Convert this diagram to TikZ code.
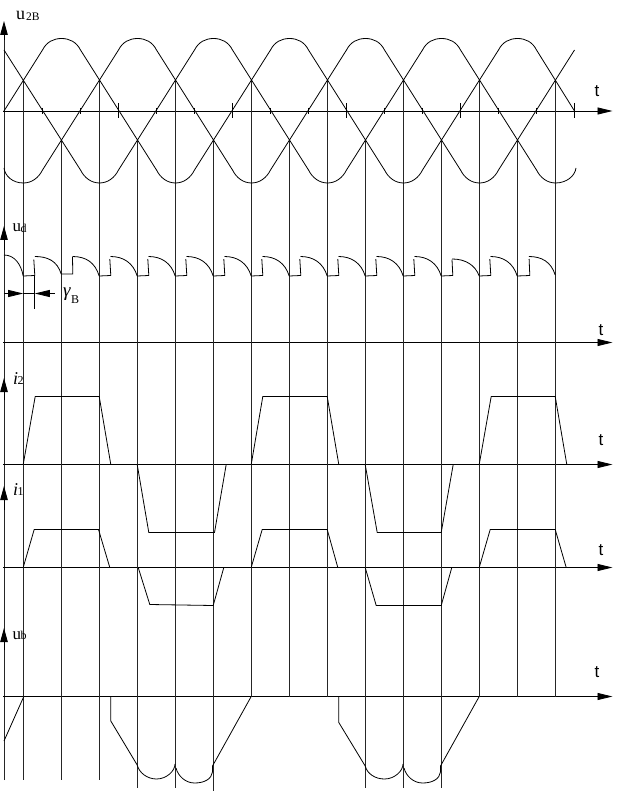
\documentclass[tikz,border=0pt]{standalone}
\usepackage{fontspec}
\setmainfont{Liberation Serif}
\newfontfamily\tfont{Liberation Sans}
\usetikzlibrary{arrows.meta}

\tikzset{
    curve/.style={line width=0.8pt},
    grid line/.style={line width=0.9pt, color=black!85},
    axis/.style={line width=0.9pt, -{Triangle[length=15pt,width=7pt]}},
    up tip/.style={line width=0.9pt, -{Triangle[length=14pt,width=7.5pt]}},
    dim tip/.style={line width=0.8pt, -{Triangle[length=15pt,width=7pt]}},
    big label/.style={anchor=base west, inner sep=0pt, font=\fontsize{17}{17}\selectfont},
    sub label/.style={anchor=base west, inner sep=0pt, font=\fontsize{12}{12}\selectfont},
    t label/.style={anchor=base west, inner sep=0pt, font=\tfont\fontsize{17}{17}\selectfont}
}

\begin{document}
\begin{tikzpicture}[x=1pt, y=-1pt]
\useasboundingbox (-0.5,0) rectangle (626.5,791);

% axes
\draw[grid line] (3.5, 780) -- (3.5, 30);
\draw[up tip] (3.5, 40) -- (3.5, 21);
\draw[up tip] (3.5, 250) -- (3.5, 226);
\draw[up tip] (3.5, 400) -- (3.5, 378);
\draw[up tip] (3.5, 510) -- (3.5, 486);
\draw[up tip] (3.5, 650) -- (3.5, 628);
\draw[axis] (3, 111) -- (612, 111);
\draw[axis] (3, 342.5) -- (612, 342.5);
\draw[axis] (3, 464.5) -- (612, 464.5);
\draw[axis] (3, 567.5) -- (612, 567.5);
\draw[axis] (3, 696.5) -- (612, 696.5);

% vertical lines
\draw[grid line] (22.7, 80) -- (22.7, 780);
\draw[grid line] (60.7, 141.5) -- (60.7, 780);
\draw[grid line] (98.7, 80) -- (98.7, 780);
\draw[grid line] (136.7, 141.5) -- (136.7, 787.5);
\draw[grid line] (174.7, 80) -- (174.7, 787.5);
\draw[grid line] (212.7, 141.5) -- (212.7, 790.5);
\draw[grid line] (250.7, 80) -- (250.7, 696.5);
\draw[grid line] (288.7, 141.5) -- (288.7, 696.5);
\draw[grid line] (326.7, 80) -- (326.7, 696.5);
\draw[grid line] (364.7, 141.5) -- (364.7, 787.5);
\draw[grid line] (402.7, 80) -- (402.7, 787.5);
\draw[grid line] (440.7, 141.5) -- (440.7, 787.5);
\draw[grid line] (478.7, 80) -- (478.7, 696.5);
\draw[grid line] (516.7, 141.5) -- (516.7, 696.5);
\draw[grid line] (554.7, 80) -- (554.7, 696.5);

% ticks on the first axis
\draw[curve] (42, 108) -- (42, 114);
\draw[curve] (80, 108) -- (80, 114);
\draw[curve] (118, 103) -- (118, 118);
\draw[curve] (156, 108) -- (156, 114);
\draw[curve] (194, 108) -- (194, 114);
\draw[curve] (232, 103) -- (232, 118);
\draw[curve] (270, 108) -- (270, 114);
\draw[curve] (308, 108) -- (308, 114);
\draw[curve] (346, 103) -- (346, 118);
\draw[curve] (384, 108) -- (384, 114);
\draw[curve] (422, 108) -- (422, 114);
\draw[curve] (460, 103) -- (460, 118);
\draw[curve] (498, 108) -- (498, 114);
\draw[curve] (536, 108) -- (536, 114);
\draw[curve] (574, 103) -- (574, 118);

% three phases of u2B
\draw[curve] (3.5, 111) -- (42, 50)
    .. controls +(4,-8) and +(-8,0) .. (61, 38.5) .. controls +(8,0) and +(-4,-8) .. (80, 50)
    -- (156, 170)
    .. controls +(4,8) and +(-8,0) .. (175, 183) .. controls +(8,0) and +(-4,8) .. (194, 170)
    -- (270, 50)
    .. controls +(4,-8) and +(-8,0) .. (289, 38.5) .. controls +(8,0) and +(-4,-8) .. (308, 50)
    -- (384, 170)
    .. controls +(4,8) and +(-8,0) .. (403, 183) .. controls +(8,0) and +(-4,8) .. (422, 170)
    -- (498, 50)
    .. controls +(4,-8) and +(-8,0) .. (517, 38.5) .. controls +(8,0) and +(-4,-8) .. (536, 50)
    -- (574, 111);
\draw[curve] (3.5, 50) -- (80, 170)
    .. controls +(4,8) and +(-8,0) .. (99, 183) .. controls +(8,0) and +(-4,8) .. (118, 170)
    -- (194, 50)
    .. controls +(4,-8) and +(-8,0) .. (213, 38.5) .. controls +(8,0) and +(-4,-8) .. (232, 50)
    -- (308, 170)
    .. controls +(4,8) and +(-8,0) .. (327, 183) .. controls +(8,0) and +(-4,8) .. (346, 170)
    -- (422, 50)
    .. controls +(4,-8) and +(-8,0) .. (441, 38.5) .. controls +(8,0) and +(-4,-8) .. (460, 50)
    -- (536, 170)
    .. controls +(4,8) and +(-8,0) .. (555, 183) .. controls +(11,0) and +(-1,8) .. (575.5, 168);
\draw[curve] (3.5, 168) .. controls +(1,8) and +(-11,0) .. (23, 183) .. controls +(8,0) and +(-4,8) .. (42, 170)
    -- (118, 50)
    .. controls +(4,-8) and +(-8,0) .. (137, 38.5) .. controls +(8,0) and +(-4,-8) .. (156, 50)
    -- (232, 170)
    .. controls +(4,8) and +(-8,0) .. (251, 183) .. controls +(8,0) and +(-4,8) .. (270, 170)
    -- (346, 50)
    .. controls +(4,-8) and +(-8,0) .. (365, 38.5) .. controls +(8,0) and +(-4,-8) .. (384, 50)
    -- (460, 170)
    .. controls +(4,8) and +(-8,0) .. (479, 183) .. controls +(8,0) and +(-4,8) .. (498, 170)
    -- (574, 50);

% pulses of ud
\draw[curve] (3.5, 255) .. controls +(11,0) and +(-2,-11) .. (22.7, 276) -- (34.3, 275.5) -- (33.3, 259.5);
\draw[curve] (34.3, 256.5) .. controls +(13,0) and +(-4,-13) .. (60.7, 274) -- (72.3, 274) -- (72, 257);
\draw[curve] (72, 256.5) .. controls +(14,0) and +(-4,-13) .. (98.7, 276) -- (110.3, 275.5) -- (109.3, 259);
\draw[curve] (110, 256.5) .. controls +(13,0) and +(-4,-13) .. (136.7, 276) -- (148.3, 275.5) -- (147.3, 259);
\draw[curve] (148, 256.5) .. controls +(13,0) and +(-4,-13) .. (174.7, 276) -- (186.3, 275.5) -- (185.3, 259);
\draw[curve] (186, 256.5) .. controls +(13,0) and +(-4,-13) .. (212.7, 276) -- (224.3, 275.5) -- (223.3, 259);
\draw[curve] (224, 256.5) .. controls +(13,0) and +(-4,-13) .. (250.7, 276) -- (262.3, 275.5) -- (261.3, 259);
\draw[curve] (262, 256.5) .. controls +(13,0) and +(-4,-13) .. (288.7, 276) -- (300.3, 275.5) -- (299.3, 259);
\draw[curve] (300, 256.5) .. controls +(13,0) and +(-4,-13) .. (326.7, 276) -- (338.3, 275.5) -- (337.3, 259);
\draw[curve] (338, 256.5) .. controls +(13,0) and +(-4,-13) .. (364.7, 276) -- (376.3, 275.5) -- (375.3, 259);
\draw[curve] (376, 256.5) .. controls +(13,0) and +(-4,-13) .. (402.7, 276) -- (414.3, 275.5) -- (413.3, 259);
\draw[curve] (414, 256.5) .. controls +(13,0) and +(-4,-13) .. (440.7, 276) -- (452.3, 275.5) -- (451.5, 259.5);
\draw[curve] (451.7, 259) .. controls +(13,0) and +(-4,-11) .. (478.7, 276) -- (490.3, 275.5) -- (489.3, 259);
\draw[curve] (490, 256.5) .. controls +(13,0) and +(-4,-13) .. (516.7, 276) -- (529.3, 275.5) -- (528.6, 259);
\draw[curve] (528.3, 256.5) .. controls +(13,0) and +(-4,-13) .. (554.7, 275);

% commutation angle
\coordinate (DimL) at (3.5, 293.5);
\coordinate (DimA) at (22.7, 293.5);
\coordinate (DimB) at (34.3, 293.5);
\coordinate (DimR) at (54, 293.5);
\draw[dim tip] (DimL) -- (DimA);
\draw[dim tip] (DimR) -- (DimB);
\draw[curve] (DimA) -- (DimB);
\draw[curve] (34.3, 276) -- (34.3, 308.5);

% i2
\draw[curve] (22.7, 464.5) -- (34.7, 396.5) -- (98.7, 396.5) -- (110.3, 464.5);
\draw[curve] (136.7, 464.5) -- (148.3, 532.5) -- (214, 532.5) -- (225.7, 464.5);
\draw[curve] (250.7, 464.5) -- (262.3, 396.5) -- (326.7, 396.5) -- (338.3, 464.5);
\draw[curve] (364.7, 464.5) -- (376.7, 532.5) -- (440.7, 532.5) -- (452.7, 464.5);
\draw[curve] (478.7, 464.5) -- (490.7, 396.5) -- (554.7, 396.5) -- (566.3, 464.5);

% i1
\draw[curve] (22.7, 567.5) -- (33.7, 529.5) -- (98, 529.5) -- (109.3, 567.5);
\draw[curve] (137.7, 567.5) -- (149.3, 604.5) -- (212.7, 605.5) -- (223.3, 567.5);
\draw[curve] (250.7, 567.5) -- (261.7, 529.5) -- (326.7, 529.5) -- (337.3, 567.5);
\draw[curve] (364.7, 567.5) -- (375.7, 605.5) -- (440.7, 605.5) -- (451.3, 567.5);
\draw[curve] (478.7, 567.5) -- (489.7, 529.5) -- (554.7, 529.5) -- (565.7, 567.5);

% ub
\draw[curve] (3.5, 741) -- (23.3, 696.5);
\draw[curve] (110.3, 696.5) -- (110.3, 721) -- (136.7, 765)
    .. controls +(2,8) and +(-9,0) .. (156, 779) .. controls +(10,0) and +(0,7) .. (174.5, 764);
\draw[curve] (175.5, 768) .. controls +(2,8) and +(-9,0) .. (194, 783) .. controls +(10,0) and +(-1,7) .. (212, 772)
    -- (212, 766) -- (250.7, 696.5);
\draw[curve] (338.3, 696.5) -- (338.3, 722.5) -- (364.7, 766)
    .. controls +(2,8) and +(-9,0) .. (384, 779) .. controls +(10,0) and +(0,7) .. (402.5, 764);
\draw[curve] (403.5, 768) .. controls +(2,8) and +(-9,0) .. (422, 783) .. controls +(10,0) and +(-1,7) .. (440, 772)
    -- (440, 766) -- (478.7, 696.5);

% labels
\node[big label, font=\fontsize{18}{18}\selectfont] (LabU2) at (15.5, 20) {u};
\node[sub label, font=\fontsize{11.5}{11.5}\selectfont] (LabU2s) at (25.5, 20.5) {2B};
\node[big label] (LabUd) at (12, 232) {u};
\node[sub label] (LabUds) at (20, 232.5) {d};
\node[big label, font=\itshape\fontsize{19}{19}\selectfont] (LabGam) at (62.5, 296) {γ};
\node[sub label] (LabGams) at (70.5, 303) {B};
\node[big label, font=\itshape\fontsize{18}{18}\selectfont] (LabI2) at (12.5, 384) {i};
\node[sub label] (LabI2s) at (17, 384.5) {2};
\node[big label, font=\itshape\fontsize{18}{18}\selectfont] (LabI1) at (12.5, 495) {i};
\node[sub label] (LabI1s) at (17, 495.5) {1};
\node[big label] (LabUb) at (12, 639) {u};
\node[sub label] (LabUbs) at (20, 639.5) {b};
\node[t label] (LabT1) at (594, 96.5) {t};
\node[t label] (LabT2) at (598, 335) {t};
\node[t label] (LabT3) at (598, 445) {t};
\node[t label] (LabT4) at (598, 555) {t};
\node[t label] (LabT5) at (594, 677) {t};

\end{tikzpicture}
\end{document}
